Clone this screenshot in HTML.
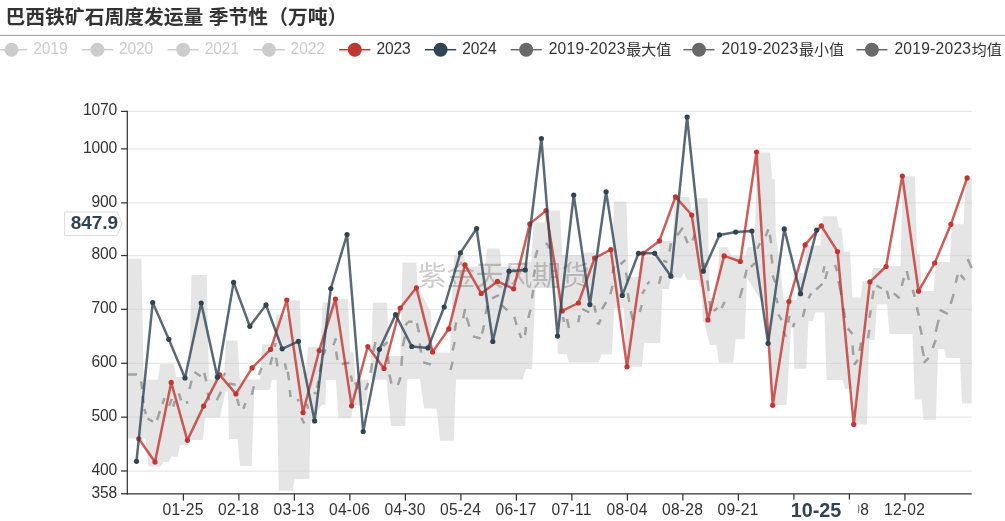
<!DOCTYPE html>
<html lang="zh"><head><meta charset="utf-8"><title>巴西铁矿石周度发运量 季节性（万吨）</title>
<style>html,body{margin:0;padding:0;background:#fff;}body{width:1005px;height:521px;overflow:hidden;}svg{display:block;}svg{will-change:transform;}text{font-family:"Liberation Sans","Noto Sans CJK SC",sans-serif;}</style></head><body>
<svg width="1005" height="521" viewBox="0 0 1005 521">
<rect width="1005" height="521" fill="#fff"/>
<text x="5.5" y="23.6" font-size="19.8" font-weight="bold" fill="#333" font-family="&quot;Liberation Sans&quot;,&quot;Noto Sans CJK SC&quot;,sans-serif">巴西铁矿石周度发运量 季节性（万吨）</text>
<rect x="0" y="34.9" width="1005" height="1.1" fill="#a6a6a6"/>
<g><path d="M-4.0 49.7H27.2" stroke="#ccc" stroke-width="1.5"/><circle cx="11.6" cy="49.7" r="7" fill="#ccc"/><text x="33.2" y="54.3" font-size="15.6" letter-spacing="-0.10" fill="#ccc">2019</text></g>
<g><path d="M81.8 49.7H113.0" stroke="#ccc" stroke-width="1.5"/><circle cx="97.4" cy="49.7" r="7" fill="#ccc"/><text x="118.9" y="54.3" font-size="15.6" letter-spacing="-0.10" fill="#ccc">2020</text></g>
<g><path d="M167.6 49.7H198.8" stroke="#ccc" stroke-width="1.5"/><circle cx="183.2" cy="49.7" r="7" fill="#ccc"/><text x="204.7" y="54.3" font-size="15.6" letter-spacing="-0.10" fill="#ccc">2021</text></g>
<g><path d="M253.4 49.7H284.6" stroke="#ccc" stroke-width="1.5"/><circle cx="269.0" cy="49.7" r="7" fill="#ccc"/><text x="290.6" y="54.3" font-size="15.6" letter-spacing="-0.10" fill="#ccc">2022</text></g>
<g><path d="M339.2 49.7H370.4" stroke="#c23531" stroke-width="1.5"/><circle cx="354.8" cy="49.7" r="7" fill="#c23531"/><text x="376.4" y="54.3" font-size="15.6" letter-spacing="-0.10" fill="#333">2023</text></g>
<g><path d="M425.0 49.7H456.2" stroke="#2f4554" stroke-width="1.5"/><circle cx="440.6" cy="49.7" r="7" fill="#2f4554"/><text x="462.2" y="54.3" font-size="15.6" letter-spacing="-0.10" fill="#333">2024</text></g>
<g><path d="M510.6 49.7H541.8" stroke="#696969" stroke-width="1.5"/><circle cx="526.2" cy="49.7" r="7" fill="#696969"/><text x="548.7" y="54.3" font-size="15.6" letter-spacing="0.26" fill="#333">2019-2023</text><text x="626.2" y="54.5" font-size="15" fill="#333" font-family="&quot;Liberation Sans&quot;,&quot;Noto Sans CJK SC&quot;,sans-serif">最大值</text></g>
<g><path d="M683.4 49.7H714.6" stroke="#696969" stroke-width="1.5"/><circle cx="699.0" cy="49.7" r="7" fill="#696969"/><text x="721.5" y="54.3" font-size="15.6" letter-spacing="0.26" fill="#333">2019-2023</text><text x="799" y="54.5" font-size="15" fill="#333" font-family="&quot;Liberation Sans&quot;,&quot;Noto Sans CJK SC&quot;,sans-serif">最小值</text></g>
<g><path d="M856.3 49.7H887.5" stroke="#696969" stroke-width="1.5"/><circle cx="871.9" cy="49.7" r="7" fill="#696969"/><text x="894.4" y="54.3" font-size="15.6" letter-spacing="0.26" fill="#333">2019-2023</text><text x="971.8" y="54.5" font-size="15" fill="#333" font-family="&quot;Liberation Sans&quot;,&quot;Noto Sans CJK SC&quot;,sans-serif">均值</text></g>
<path d="M127.3 111.40H971.7" stroke="#e8e8e8" stroke-width="1.25"/>
<path d="M127.3 148.85H971.7" stroke="#e8e8e8" stroke-width="1.25"/>
<path d="M127.3 202.85H971.7" stroke="#e8e8e8" stroke-width="1.25"/>
<path d="M127.3 255.55H971.7" stroke="#e8e8e8" stroke-width="1.25"/>
<path d="M127.3 309.30H971.7" stroke="#e8e8e8" stroke-width="1.25"/>
<path d="M127.3 363.25H971.7" stroke="#e8e8e8" stroke-width="1.25"/>
<path d="M127.3 417.20H971.7" stroke="#e8e8e8" stroke-width="1.25"/>
<path d="M127.3 471.00H971.7" stroke="#e8e8e8" stroke-width="1.25"/>
<path d="M128.0 258.8 L141.3 258.8 L143.7 379.7 L157.8 379.7 L160.2 364.0 L173.8 364.0 L176.2 376.9 L189.2 376.9 L191.6 274.9 L206.7 274.9 L209.0 379.3 L223.8 379.3 L226.2 340.4 L237.4 340.4 L239.8 379.5 L260.1 379.5 L262.3 344.3 L273.9 344.3 L276.1 315.0 L288.6 315.0 L290.8 300.6 L299.8 300.6 L302.0 372.0 L305.9 372.0 L308.1 346.9 L320.5 346.9 L322.8 302.4 L335.9 302.4 L338.1 299.1 L347.9 299.1 L350.1 352.3 L353.4 352.3 L355.6 379.5 L370.7 379.5 L372.9 302.8 L387.0 302.8 L389.2 356.0 L400.4 356.0 L402.6 262.6 L416.3 262.6 L417.7 288.0 L418.1 288.0 L430.6 311.0 L431.0 311.0 L432.0 352.5 L450.0 352.5 L454.0 255.4 L463.9 255.4 L466.1 266.6 L484.9 266.6 L487.1 248.4 L499.6 248.4 L501.8 266.6 L515.6 266.6 L517.9 262.0 L531.4 262.0 L533.6 222.5 L544.4 222.5 L546.6 210.4 L559.9 210.4 L562.1 254.9 L582.9 254.9 L585.1 252.5 L594.1 252.5 L596.4 255.0 L611.9 255.0 L614.1 201.5 L626.4 201.5 L628.6 276.8 L638.9 276.8 L641.1 256.5 L658.1 256.5 L660.4 241.0 L672.6 241.0 L674.9 196.9 L689.0 196.9 L692.5 215.0 L692.5 215.0 L696.8 198.3 L707.5 198.3 L709.8 298.0 L717.1 298.0 L719.4 246.9 L727.5 246.9 L731.5 256.0 L745.4 256.0 L747.6 246.9 L754.6 246.9 L756.9 152.4 L769.9 152.4 L772.1 178.9 L774.8 178.9 L775.8 235.0 L776.0 235.0 L784.0 300.0 L796.9 300.0 L799.1 273.0 L803.8 273.0 L806.0 245.5 L820.4 245.5 L822.6 216.2 L836.6 216.2 L838.9 227.8 L841.6 227.8 L843.9 251.5 L850.1 251.5 L852.4 297.6 L860.6 297.6 L862.9 281.0 L870.9 281.0 L873.1 268.0 L884.9 268.0 L887.1 266.0 L900.5 266.0 L902.8 176.3 L914.9 176.3 L917.1 254.0 L919.6 254.0 L921.9 291.0 L933.6 291.0 L935.9 262.0 L949.8 262.0 L952.0 224.3 L963.6 224.3 L965.9 178.0 L971.7 178.0 L971.7 403.5 L962.1 403.5 L959.9 358.0 L946.1 358.0 L943.9 349.0 L938.1 349.0 L935.9 419.8 L923.8 419.8 L921.5 399.6 L914.8 399.6 L912.5 334.0 L889.4 334.0 L887.1 304.6 L876.9 304.6 L874.6 340.0 L869.1 340.0 L866.9 424.5 L854.9 424.5 L852.6 389.0 L844.9 389.0 L842.6 380.0 L826.6 380.0 L824.4 312.6 L815.1 312.6 L812.9 321.0 L808.5 321.0 L806.2 368.7 L794.3 368.7 L793.3 328.0 L791.0 328.0 L786.5 405.0 L771.5 405.0 L768.5 310.0 L767.0 310.0 L747.4 278.5 L747.0 278.5 L744.6 339.2 L735.6 339.2 L733.4 362.8 L718.8 362.8 L716.5 344.9 L710.0 344.9 L704.0 322.0 L702.9 322.0 L701.7 287.0 L700.0 287.0 L698.0 280.0 L686.8 280.0 L684.2 273.0 L683.8 273.0 L681.2 277.8 L671.0 277.8 L669.0 289.0 L662.4 289.0 L660.1 342.9 L644.1 342.9 L641.9 366.8 L626.1 366.8 L623.9 308.0 L614.1 308.0 L611.9 354.5 L601.1 354.5 L598.9 362.4 L568.9 362.4 L566.6 354.3 L557.7 354.3 L556.7 288.0 L535.5 288.0 L532.0 369.0 L525.7 369.0 L522.9 379.4 L456.0 379.4 L453.8 440.8 L440.1 440.8 L436.6 408.5 L424.1 408.5 L419.9 379.1 L407.3 379.1 L405.1 426.0 L391.2 426.0 L386.2 379.8 L368.7 379.8 L366.5 405.3 L353.5 405.3 L351.2 418.3 L338.4 418.3 L335.9 380.0 L326.3 380.0 L325.3 404.8 L321.5 404.8 L310.5 423.0 L310.4 423.0 L309.2 479.2 L294.8 479.2 L292.6 490.8 L278.8 490.8 L276.6 380.0 L272.1 380.0 L269.9 390.0 L254.2 390.0 L251.8 465.9 L240.0 465.9 L237.7 439.0 L229.0 439.0 L228.0 391.5 L225.4 391.5 L220.0 417.4 L205.2 417.4 L202.8 440.0 L189.7 440.0 L187.3 445.0 L180.2 445.0 L177.8 456.5 L171.2 456.5 L168.8 462.0 L163.2 462.0 L160.8 466.4 L148.5 466.4 L145.5 438.5 L128.0 438.5Z" fill="#ccc" fill-opacity="0.5"/>
<text x="418" y="286" font-size="28.6" fill="#000" fill-opacity="0.2" font-family="&quot;Liberation Sans&quot;,&quot;Noto Sans CJK SC&quot;,sans-serif">紫金天风期货</text>
<path d="M128.0 374.4L137.0 374.4 M141.1 381.3L142.1 389.0 M142.6 396.0L143.6 403.0 M144.3 409.0L146.0 414.0 M147.5 418.6L153.0 421.6 M157.0 420.0L160.0 411.0 M162.5 404.0L164.5 398.0 M169.1 405.9L171.9 398.9 M173.3 406.6L174.7 401.0 M178.9 393.3L181.1 400.3 M186.7 401.0L187.4 403.8 M189.5 389.0L191.6 380.6 M194.4 372.0L200.7 376.2 M204.2 372.9L206.3 381.3 M207.7 392.6L209.1 400.3 M216.8 400.3L221.0 391.8 M223.1 376.4L225.2 372.9 M228.7 383.4L235.7 384.8 M237.1 398.9L239.2 405.9 M243.4 408.7L245.5 403.1 M251.8 394.7L253.9 386.2 M258.8 375.0L261.6 368.0 M270.2 364.8L272.3 357.1 M274.6 347.0L275.6 343.0 M276.1 357.8L277.5 366.2 M284.9 363.4L286.3 369.7 M287.7 371.8L289.1 380.3 M289.8 390.0L290.6 397.0 M297.5 399.0L298.7 401.6 M301.4 417.9L304.2 423.5 M307.0 404.0L308.2 408.8 M313.7 393.4L316.5 392.7 M317.2 387.8L318.6 380.8 M319.8 372.0L321.2 364.0 M323.5 355.0L325.6 349.4 M333.3 345.2L336.1 338.2 M336.1 351.5L337.5 360.0 M341.7 364.1L349.4 362.7 M350.8 375.4L352.2 381.7 M355.1 382.2L357.9 389.2 M365.5 390.0L368.3 383.0 M370.6 372.9L372.0 363.1 M373.4 351.8L375.5 342.0 M383.2 346.2L387.4 342.0 M388.0 357.0L388.7 364.0 M389.4 374.5L391.5 383.6 M397.8 385.0L400.6 377.3 M401.4 365.9L402.1 356.0 M402.8 346.2L404.9 336.4 M405.6 325.2L408.0 321.9 M408.0 321.7L412.6 321.7 M416.8 323.1L419.0 332.2 M419.7 343.4L421.1 352.5 M423.2 362.4L430.9 364.5 M450.5 370.0L452.6 361.7 M452.6 350.4L454.7 342.0 M454.7 330.8L456.1 322.4 M463.1 318.2L465.2 309.1 M466.6 317.5L469.4 326.6 M472.9 336.4L480.6 338.5 M482.0 333.6L484.1 325.2 M485.5 314.0L487.6 305.6 M492.0 298.4L499.0 295.0 M501.8 305.4L507.4 310.4 M514.4 316.7L516.5 325.0 M519.3 333.0L521.4 338.0 M528.4 318.0L530.5 309.7 M531.9 298.4L533.3 290.0 M533.5 277.0L535.0 269.5 M535.2 258.0L537.5 250.0 M545.5 243.5L548.0 244.5 M548.0 244.5L549.0 248.5 M526.0 327.0L525.0 335.0 M563.0 317.0L564.0 322.0 M567.0 319.0L569.0 328.0 M578.2 322.3L579.6 315.3 M582.4 309.0L589.4 312.5 M594.3 305.4L595.7 312.5 M597.1 322.4L598.5 324.4 M598.5 324.4L600.6 319.5 M602.0 309.0L606.2 302.0 M610.4 294.2L612.5 285.8 M612.5 273.2L613.9 266.2 M620.4 264.2L625.3 260.0 M626.0 272.6L627.4 281.1 M627.8 293.0L629.2 302.0 M630.8 311.0L632.8 320.0 M639.8 312.0L641.8 305.0 M642.1 293.7L644.9 289.5 M647.0 283.9L649.8 281.8 M659.0 283.9L661.0 276.1 M663.2 260.7L667.4 262.1 M669.5 251.6L670.9 243.2 M677.2 235.5L682.8 227.8 M684.9 236.2L687.7 243.2 M692.6 240.4L694.7 234.8 M703.8 262.8L705.9 267.0 M707.3 280.4L708.6 291.0 M709.6 301.0L710.6 311.0 M713.6 311.0L717.6 308.0 M721.6 308.0L724.6 302.0 M739.7 298.0L742.5 288.0 M744.6 278.3L746.7 269.8 M750.9 267.0L755.1 262.8 M757.2 248.8L760.0 243.2 M765.6 236.2L768.4 229.2 M769.8 234.8L771.2 243.2 M771.2 254.4L772.4 263.5 M772.6 275.4L775.4 282.5 M776.2 297.6L777.6 303.2 M778.3 314.4L781.8 320.0 M783.2 331.2L786.0 336.8 M788.1 322.8L789.5 315.8 M793.0 327.0L794.4 322.8 M802.8 317.2L804.9 308.8 M808.4 298.3L811.2 293.4 M816.1 289.5L822.4 283.9 M823.1 272.6L824.5 266.3 M825.2 279.0L827.3 271.2 M835.0 264.9L837.1 271.2 M838.5 281.0L841.3 295.0 M843.5 308.0L845.0 318.0 M847.7 328.4L852.6 334.0 M852.6 345.3L853.3 355.0 M853.9 364.9L857.9 359.9 M859.6 350.9L861.0 342.5 M868.0 338.3L869.4 329.8 M869.4 317.9L870.8 310.2 M872.2 299.0L873.6 290.6 M876.4 285.7L882.0 288.5 M886.9 290.6L889.0 299.0 M893.9 293.4L899.5 298.3 M901.8 285.9L903.8 277.9 M906.8 270.9L908.8 279.9 M912.8 289.9L914.8 296.9 M916.8 306.9L918.8 315.8 M919.8 325.8L921.8 334.8 M921.8 346.0L923.8 356.0 M923.8 362.9L928.7 357.9 M932.7 348.0L935.7 340.0 M935.7 331.8L938.7 319.8 M939.7 309.9L947.7 313.8 M950.7 303.9L953.7 293.9 M955.7 282.9L957.7 274.9 M960.7 274.9L964.7 279.9 M967.7 259.0L971.7 268.0" fill="none" stroke="#696969" stroke-opacity="0.55" stroke-width="2.5"/>
<path d="M138.8 438.8 L155.0 462.0 L171.2 382.4 L187.4 440.3 L203.6 406.1 L219.7 374.9 L235.9 393.9 L252.1 367.9 L270.6 349.4 L286.8 300.1 L303.0 412.5 L319.2 350.5 L335.4 299.1 L351.6 405.8 L367.8 346.5 L384.0 368.5 L400.2 308.0 L416.4 287.8 L432.6 351.9 L448.8 328.9 L465.0 264.9 L481.2 293.4 L497.4 281.4 L513.6 288.8 L529.8 223.9 L546.0 210.6 L562.2 310.9 L578.4 303.0 L594.6 258.1 L610.8 249.7 L627.0 366.8 L643.2 253.3 L659.4 240.9 L675.5 196.8 L691.7 215.0 L707.9 319.9 L724.1 255.9 L740.3 261.5 L756.5 152.0 L772.7 405.3 L788.9 301.6 L805.1 244.9 L821.3 225.8 L837.5 251.5 L853.7 424.4 L869.9 281.9 L886.1 266.5 L902.3 176.0 L918.5 291.2 L934.7 263.0 L950.9 224.3 L967.1 177.9" fill="none" stroke="#c23531" stroke-opacity="0.8" stroke-width="2.5" stroke-linejoin="bevel"/><g fill="#c23531"><circle cx="138.8" cy="438.8" r="2.6"/><circle cx="155.0" cy="462.0" r="2.6"/><circle cx="171.2" cy="382.4" r="2.6"/><circle cx="187.4" cy="440.3" r="2.6"/><circle cx="203.6" cy="406.1" r="2.6"/><circle cx="219.7" cy="374.9" r="2.6"/><circle cx="235.9" cy="393.9" r="2.6"/><circle cx="252.1" cy="367.9" r="2.6"/><circle cx="270.6" cy="349.4" r="2.6"/><circle cx="286.8" cy="300.1" r="2.6"/><circle cx="303.0" cy="412.5" r="2.6"/><circle cx="319.2" cy="350.5" r="2.6"/><circle cx="335.4" cy="299.1" r="2.6"/><circle cx="351.6" cy="405.8" r="2.6"/><circle cx="367.8" cy="346.5" r="2.6"/><circle cx="384.0" cy="368.5" r="2.6"/><circle cx="400.2" cy="308.0" r="2.6"/><circle cx="416.4" cy="287.8" r="2.6"/><circle cx="432.6" cy="351.9" r="2.6"/><circle cx="448.8" cy="328.9" r="2.6"/><circle cx="465.0" cy="264.9" r="2.6"/><circle cx="481.2" cy="293.4" r="2.6"/><circle cx="497.4" cy="281.4" r="2.6"/><circle cx="513.6" cy="288.8" r="2.6"/><circle cx="529.8" cy="223.9" r="2.6"/><circle cx="546.0" cy="210.6" r="2.6"/><circle cx="562.2" cy="310.9" r="2.6"/><circle cx="578.4" cy="303.0" r="2.6"/><circle cx="594.6" cy="258.1" r="2.6"/><circle cx="610.8" cy="249.7" r="2.6"/><circle cx="627.0" cy="366.8" r="2.6"/><circle cx="643.2" cy="253.3" r="2.6"/><circle cx="659.4" cy="240.9" r="2.6"/><circle cx="675.5" cy="196.8" r="2.6"/><circle cx="691.7" cy="215.0" r="2.6"/><circle cx="707.9" cy="319.9" r="2.6"/><circle cx="724.1" cy="255.9" r="2.6"/><circle cx="740.3" cy="261.5" r="2.6"/><circle cx="756.5" cy="152.0" r="2.6"/><circle cx="772.7" cy="405.3" r="2.6"/><circle cx="788.9" cy="301.6" r="2.6"/><circle cx="805.1" cy="244.9" r="2.6"/><circle cx="821.3" cy="225.8" r="2.6"/><circle cx="837.5" cy="251.5" r="2.6"/><circle cx="853.7" cy="424.4" r="2.6"/><circle cx="869.9" cy="281.9" r="2.6"/><circle cx="886.1" cy="266.5" r="2.6"/><circle cx="902.3" cy="176.0" r="2.6"/><circle cx="918.5" cy="291.2" r="2.6"/><circle cx="934.7" cy="263.0" r="2.6"/><circle cx="950.9" cy="224.3" r="2.6"/><circle cx="967.1" cy="177.9" r="2.6"/></g>
<path d="M136.5 461.3 L152.7 302.6 L168.8 339.3 L185.0 377.9 L201.2 303.1 L217.4 377.2 L233.6 282.4 L249.8 326.3 L266.0 304.9 L282.2 348.8 L298.4 341.3 L314.6 420.9 L330.8 288.5 L347.0 234.5 L363.2 431.5 L379.4 349.3 L395.6 314.6 L411.8 346.5 L428.0 347.9 L444.2 307.0 L460.4 252.9 L476.6 228.5 L492.8 341.5 L509.0 271.2 L525.2 269.9 L541.4 138.5 L557.5 336.1 L573.7 195.0 L589.9 304.6 L606.1 191.8 L622.3 295.4 L638.5 253.3 L654.7 253.3 L670.9 276.2 L687.1 117.0 L703.3 271.2 L719.5 234.9 L735.7 232.1 L751.9 231.1 L768.1 343.3 L784.3 228.9 L800.5 293.7 L816.7 230.1" fill="none" stroke="#2f4554" stroke-opacity="0.8" stroke-width="2.5" stroke-linejoin="bevel"/><g fill="#2f4554"><circle cx="136.5" cy="461.3" r="2.6"/><circle cx="152.7" cy="302.6" r="2.6"/><circle cx="168.8" cy="339.3" r="2.6"/><circle cx="185.0" cy="377.9" r="2.6"/><circle cx="201.2" cy="303.1" r="2.6"/><circle cx="217.4" cy="377.2" r="2.6"/><circle cx="233.6" cy="282.4" r="2.6"/><circle cx="249.8" cy="326.3" r="2.6"/><circle cx="266.0" cy="304.9" r="2.6"/><circle cx="282.2" cy="348.8" r="2.6"/><circle cx="298.4" cy="341.3" r="2.6"/><circle cx="314.6" cy="420.9" r="2.6"/><circle cx="330.8" cy="288.5" r="2.6"/><circle cx="347.0" cy="234.5" r="2.6"/><circle cx="363.2" cy="431.5" r="2.6"/><circle cx="379.4" cy="349.3" r="2.6"/><circle cx="395.6" cy="314.6" r="2.6"/><circle cx="411.8" cy="346.5" r="2.6"/><circle cx="428.0" cy="347.9" r="2.6"/><circle cx="444.2" cy="307.0" r="2.6"/><circle cx="460.4" cy="252.9" r="2.6"/><circle cx="476.6" cy="228.5" r="2.6"/><circle cx="492.8" cy="341.5" r="2.6"/><circle cx="509.0" cy="271.2" r="2.6"/><circle cx="525.2" cy="269.9" r="2.6"/><circle cx="541.4" cy="138.5" r="2.6"/><circle cx="557.5" cy="336.1" r="2.6"/><circle cx="573.7" cy="195.0" r="2.6"/><circle cx="589.9" cy="304.6" r="2.6"/><circle cx="606.1" cy="191.8" r="2.6"/><circle cx="622.3" cy="295.4" r="2.6"/><circle cx="638.5" cy="253.3" r="2.6"/><circle cx="654.7" cy="253.3" r="2.6"/><circle cx="670.9" cy="276.2" r="2.6"/><circle cx="687.1" cy="117.0" r="2.6"/><circle cx="703.3" cy="271.2" r="2.6"/><circle cx="719.5" cy="234.9" r="2.6"/><circle cx="735.7" cy="232.1" r="2.6"/><circle cx="751.9" cy="231.1" r="2.6"/><circle cx="768.1" cy="343.3" r="2.6"/><circle cx="784.3" cy="228.9" r="2.6"/><circle cx="800.5" cy="293.7" r="2.6"/><circle cx="816.7" cy="230.1" r="2.6"/></g>
<path d="M127.3 110.8V494.4" stroke="#333" stroke-width="1.25"/>
<path d="M126.7 493.8H971.7" stroke="#333" stroke-width="1.25"/>
<path d="M121.1 111.40H127.3" stroke="#333" stroke-width="1.25"/>
<text x="117.1" y="115.1" font-size="15.6" letter-spacing="-0.15" text-anchor="end" fill="#333">1070</text>
<path d="M121.1 148.85H127.3" stroke="#333" stroke-width="1.25"/>
<text x="117.1" y="152.5" font-size="15.6" letter-spacing="-0.15" text-anchor="end" fill="#333">1000</text>
<path d="M121.1 202.85H127.3" stroke="#333" stroke-width="1.25"/>
<text x="117.1" y="206.5" font-size="15.6" letter-spacing="-0.15" text-anchor="end" fill="#333">900</text>
<path d="M121.1 255.55H127.3" stroke="#333" stroke-width="1.25"/>
<text x="117.1" y="259.2" font-size="15.6" letter-spacing="-0.15" text-anchor="end" fill="#333">800</text>
<path d="M121.1 309.30H127.3" stroke="#333" stroke-width="1.25"/>
<text x="117.1" y="313.0" font-size="15.6" letter-spacing="-0.15" text-anchor="end" fill="#333">700</text>
<path d="M121.1 363.25H127.3" stroke="#333" stroke-width="1.25"/>
<text x="117.1" y="366.9" font-size="15.6" letter-spacing="-0.15" text-anchor="end" fill="#333">600</text>
<path d="M121.1 417.20H127.3" stroke="#333" stroke-width="1.25"/>
<text x="117.1" y="420.9" font-size="15.6" letter-spacing="-0.15" text-anchor="end" fill="#333">500</text>
<path d="M121.1 471.00H127.3" stroke="#333" stroke-width="1.25"/>
<text x="117.1" y="474.7" font-size="15.6" letter-spacing="-0.15" text-anchor="end" fill="#333">400</text>
<path d="M121.1 493.80H127.3" stroke="#333" stroke-width="1.25"/>
<text x="117.1" y="498.1" font-size="15.6" letter-spacing="-0.15" text-anchor="end" fill="#333">358</text>
<path d="M183.4 493.8V500.6" stroke="#333" stroke-width="1.25"/>
<text x="183.1" y="515.4" font-size="15.6" letter-spacing="0.28" text-anchor="middle" fill="#333">01-25</text>
<path d="M238.9 493.8V500.6" stroke="#333" stroke-width="1.25"/>
<text x="238.6" y="515.4" font-size="15.6" letter-spacing="0.28" text-anchor="middle" fill="#333">02-18</text>
<path d="M294.4 493.8V500.6" stroke="#333" stroke-width="1.25"/>
<text x="294.1" y="515.4" font-size="15.6" letter-spacing="0.28" text-anchor="middle" fill="#333">03-13</text>
<path d="M349.9 493.8V500.6" stroke="#333" stroke-width="1.25"/>
<text x="349.6" y="515.4" font-size="15.6" letter-spacing="0.28" text-anchor="middle" fill="#333">04-06</text>
<path d="M405.4 493.8V500.6" stroke="#333" stroke-width="1.25"/>
<text x="405.1" y="515.4" font-size="15.6" letter-spacing="0.28" text-anchor="middle" fill="#333">04-30</text>
<path d="M460.9 493.8V500.6" stroke="#333" stroke-width="1.25"/>
<text x="460.6" y="515.4" font-size="15.6" letter-spacing="0.28" text-anchor="middle" fill="#333">05-24</text>
<path d="M516.4 493.8V500.6" stroke="#333" stroke-width="1.25"/>
<text x="516.1" y="515.4" font-size="15.6" letter-spacing="0.28" text-anchor="middle" fill="#333">06-17</text>
<path d="M571.9 493.8V500.6" stroke="#333" stroke-width="1.25"/>
<text x="571.6" y="515.4" font-size="15.6" letter-spacing="0.28" text-anchor="middle" fill="#333">07-11</text>
<path d="M627.4 493.8V500.6" stroke="#333" stroke-width="1.25"/>
<text x="627.1" y="515.4" font-size="15.6" letter-spacing="0.28" text-anchor="middle" fill="#333">08-04</text>
<path d="M682.9 493.8V500.6" stroke="#333" stroke-width="1.25"/>
<text x="682.6" y="515.4" font-size="15.6" letter-spacing="0.28" text-anchor="middle" fill="#333">08-28</text>
<path d="M738.4 493.8V500.6" stroke="#333" stroke-width="1.25"/>
<text x="738.1" y="515.4" font-size="15.6" letter-spacing="0.28" text-anchor="middle" fill="#333">09-21</text>
<path d="M793.9 493.8V500.6" stroke="#333" stroke-width="1.25"/>
<text x="793.6" y="515.4" font-size="15.6" letter-spacing="0.28" text-anchor="middle" fill="#333">10-15</text>
<path d="M849.4 493.8V500.6" stroke="#333" stroke-width="1.25"/>
<text x="849.1" y="515.4" font-size="15.6" letter-spacing="0.28" text-anchor="middle" fill="#333">11-08</text>
<path d="M904.9 493.8V500.6" stroke="#333" stroke-width="1.25"/>
<text x="904.6" y="515.4" font-size="15.6" letter-spacing="0.28" text-anchor="middle" fill="#333">12-02</text>
<rect x="773" y="499.6" width="85.4" height="22" fill="#fff"/>
<text x="816" y="516.6" font-size="19.8" font-weight="bold" text-anchor="middle" fill="#2f4554">10-25</text>
<path d="M64.6 212H117.2L122 223.6L117.2 235.4H64.6Z" fill="#fff" stroke="#dcdcdc" stroke-width="1"/>
<text x="118.2" y="229.3" font-size="19" font-weight="bold" text-anchor="end" fill="#2f4554">847.9</text>
</svg></body></html>
